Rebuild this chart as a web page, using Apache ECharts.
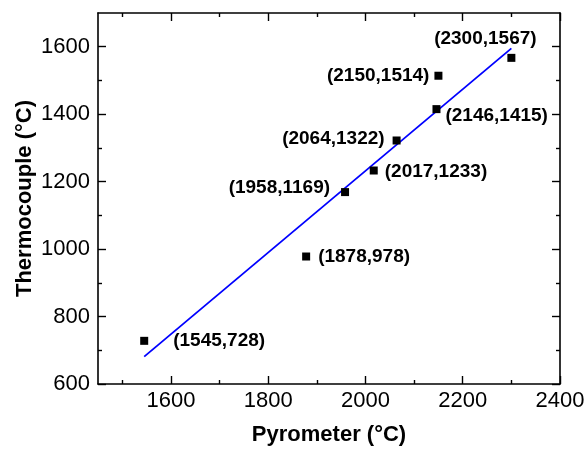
<!DOCTYPE html>
<html><head><meta charset="utf-8">
<script src="https://cdn.jsdelivr.net/npm/echarts@6/dist/echarts.min.js"></script>
<style>html,body{margin:0;padding:0;background:#fff}#c{width:588px;height:453px}</style>
</head><body><div id="c"></div>
<script>
// ---- data ----
const pyrometer = [1545, 1878, 1958, 2017, 2064, 2146, 2150, 2300];
const thermocouple = [728, 978, 1169, 1233, 1322, 1415, 1514, 1567];
const fitX = [1545, 2300];
const fitY = [681, 1595];
const xMajorTicks = [1600, 1800, 2000, 2200, 2400];
const xMinorTicks = [1500, 1700, 1900, 2100, 2300];
const yMajorTicks = [600, 800, 1000, 1200, 1400, 1600];
const yMinorTicks = [700, 900, 1100, 1300, 1500];
const xName = 'Pyrometer (°C)';
const yName = 'Thermocouple (°C)';

// ---- label placement (style) ----
const labelPlace = [
  {position: 'right', distance: 25, offset: [0, 0]},
  {position: 'right', distance: 8, offset: [0, 0]},
  {position: 'left', distance: 11, offset: [0, -4]},
  {position: 'right', distance: 7, offset: [0, 1]},
  {position: 'left', distance: 8, offset: [0, -2]},
  {position: 'right', distance: 5, offset: [0, 7]},
  {position: 'left', distance: 5, offset: [0, 0]},
  {position: 'inside', distance: 0, offset: [-26, -19]}
];

const FONT = 'Liberation Sans, Arial, sans-serif';
const black = '#000';
const plain = v => String(v);

function xAx(pos, ticks, len, showLine, showLabel, name) {
  return {
    type: 'value', position: pos, min: 1450, max: 2400,
    name: name || '', nameLocation: 'middle', nameGap: 40, nameMoveOverlap: false,
    nameTextStyle: {fontFamily: FONT, fontWeight: 'bold', fontSize: 22, color: black},
    axisLine: {show: showLine, onZero: false, lineStyle: {color: black, width: 1.6}},
    axisTick: {show: true, inside: true, length: len, customValues: ticks, lineStyle: {color: black, width: 1.4}},
    axisLabel: {show: showLabel, customValues: ticks, formatter: plain, margin: 6, fontFamily: FONT, fontSize: 22, color: black},
    splitLine: {show: false}
  };
}
function yAx(pos, ticks, len, showLine, showLabel, name) {
  return {
    type: 'value', position: pos, min: 600, max: 1700,
    name: name || '', nameLocation: 'middle', nameGap: 62, nameMoveOverlap: false,
    nameTextStyle: {fontFamily: FONT, fontWeight: 'bold', fontSize: 22, color: black},
    axisLine: {show: showLine, onZero: false, lineStyle: {color: black, width: 1.6}},
    axisTick: {show: true, inside: true, length: len, customValues: ticks, lineStyle: {color: black, width: 1.4}},
    axisLabel: {show: showLabel, customValues: ticks, formatter: plain, margin: 8, fontFamily: FONT, fontSize: 22, color: black},
    splitLine: {show: false}
  };
}

const chart = echarts.init(document.getElementById('c'), null, {renderer: 'canvas'});
chart.setOption({
  animation: false,
  backgroundColor: '#fff',
  grid: {left: 98, right: 28, top: 13, bottom: 69, containLabel: false},
  xAxis: [
    xAx('bottom', xMajorTicks, 8, true, true, xName),
    xAx('bottom', xMinorTicks, 4, false, false),
    xAx('top', xMajorTicks, 8, true, false),
    xAx('top', xMinorTicks, 4, false, false)
  ],
  yAxis: [
    yAx('left', yMajorTicks, 8, true, true, yName),
    yAx('left', yMinorTicks, 4, false, false),
    yAx('right', yMajorTicks, 8, true, false),
    yAx('right', yMinorTicks, 4, false, false)
  ],
  series: [
    {
      type: 'line', xAxisIndex: 0, yAxisIndex: 0,
      data: fitX.map((x, i) => [x, fitY[i]]),
      showSymbol: false, symbol: 'none',
      lineStyle: {color: '#0000ff', width: 1.8},
      z: 2
    },
    {
      type: 'scatter', xAxisIndex: 0, yAxisIndex: 0,
      symbol: 'rect', symbolSize: 8,
      itemStyle: {color: black, opacity: 1},
      data: pyrometer.map((x, i) => ({
        value: [x, thermocouple[i]],
        label: Object.assign({show: true}, labelPlace[i])
      })),
      label: {
        show: true,
        formatter: p => '(' + p.value[0] + ',' + p.value[1] + ')',
        fontFamily: FONT, fontWeight: 'bold', fontSize: 19, color: black, opacity: 1
      },
      z: 3
    }
  ]
});
</script></body></html>
